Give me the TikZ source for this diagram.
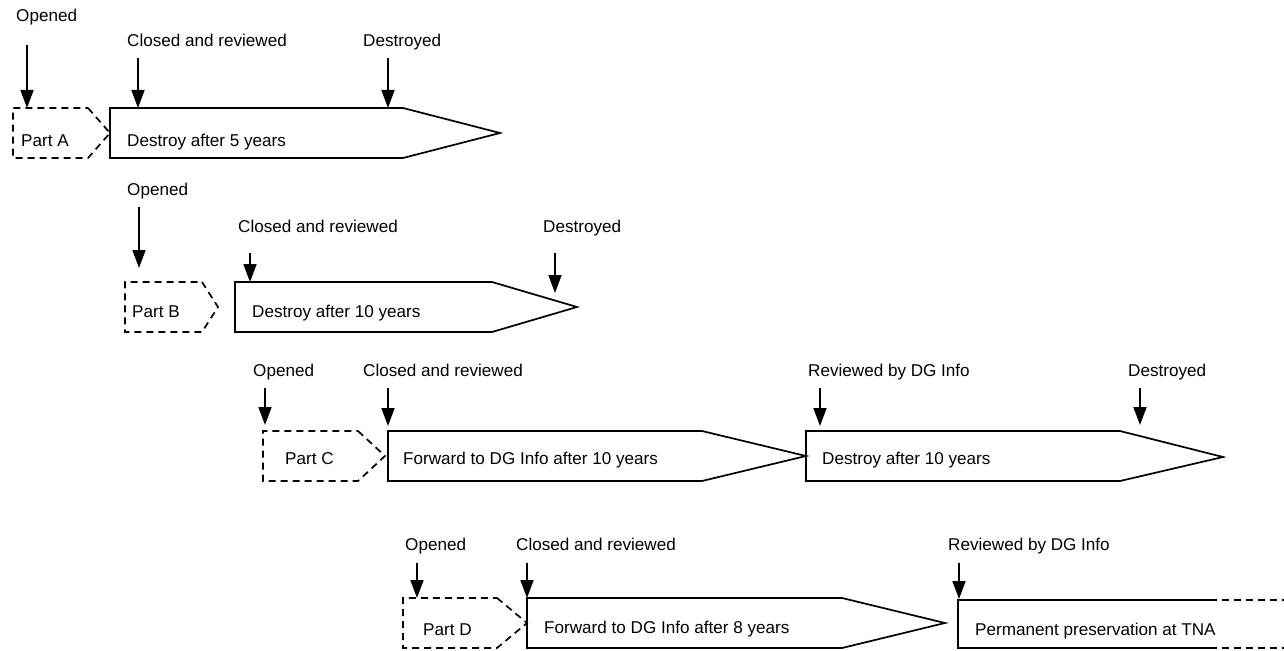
\documentclass[tikz,border=0pt]{standalone}
\usepackage{fontspec}
\setmainfont{Liberation Sans}
\usetikzlibrary{arrows.meta}
\begin{document}
\begin{tikzpicture}[x=1bp,y=-1bp,
  lbl/.style={anchor=base west, inner sep=0pt, font=\fontsize{17.1bp}{20bp}\selectfont},
  tick/.style={-{Triangle[width=13bp,length=18bp]}, line width=1.7bp},
  stage/.style={draw, line width=1.7bp, line join=miter},
  partline/.style={draw, line width=1.7bp, dash pattern=on 7bp off 5bp},
  openline/.style={line width=1.7bp, dash pattern=on 7bp off 5bp}]
\useasboundingbox (0,0) rectangle (1284,651);

% ---------- Row A ----------
\draw[partline] (88,108) -- (110,133) -- (88,158) -- (13,158) -- (13,108) -- cycle;
\draw[stage] (110,108) -- (403,108) -- (500,133) -- (403,158) -- (110,158) -- cycle;
\node[lbl] (pA) at (21,147) {Part A};
\node[lbl] (sA) at (127,147) {Destroy after 5 years};
\node[lbl] (oA) at (16,22) {Opened};
\node[lbl] (cA) at (127,47) {Closed and reviewed};
\node[lbl] (dA) at (363,47) {Destroyed};
\coordinate (oA1) at (27,45);  \coordinate (oA2) at (27,108);
\coordinate (cA1) at (138,58); \coordinate (cA2) at (138,108);
\coordinate (dA1) at (388,58); \coordinate (dA2) at (388,108);
\draw[tick] (oA1) -- (oA2);
\draw[tick] (cA1) -- (cA2);
\draw[tick] (dA1) -- (dA2);

% ---------- Row B ----------
\draw[partline] (202,282) -- (218,307) -- (202,332) -- (125,332) -- (125,282) -- cycle;
\draw[stage] (235,282) -- (492,282) -- (577,307) -- (492,332) -- (235,332) -- cycle;
\node[lbl] (pB) at (132,317) {Part B};
\node[lbl] (sB) at (252,317) {Destroy after 10 years};
\node[lbl] (oB) at (127,196) {Opened};
\node[lbl] (cB) at (238,233) {Closed and reviewed};
\node[lbl] (dB) at (543,233) {Destroyed};
\coordinate (oB1) at (139,207); \coordinate (oB2) at (139,268);
\coordinate (cB1) at (250,253); \coordinate (cB2) at (250,282);
\coordinate (dB1) at (555,253); \coordinate (dB2) at (555,293);
\draw[tick] (oB1) -- (oB2);
\draw[tick] (cB1) -- (cB2);
\draw[tick] (dB1) -- (dB2);

% ---------- Row C ----------
\draw[partline] (358,431) -- (385,456) -- (358,481) -- (263,481) -- (263,431) -- cycle;
\draw[stage] (388,431) -- (702,431) -- (806,456) -- (702,481) -- (388,481) -- cycle;
\draw[stage] (806,431) -- (1120,431) -- (1223,457) -- (1120,481) -- (806,481) -- cycle;
\node[lbl] (pC) at (285,464) {Part C};
\node[lbl] (sC1) at (403,464) {Forward to DG Info after 10 years};
\node[lbl] (sC2) at (822,464) {Destroy after 10 years};
\node[lbl] (oC) at (253,376) {Opened};
\node[lbl] (cC) at (363,376) {Closed and reviewed};
\node[lbl] (rC) at (808,376) {Reviewed by DG Info};
\node[lbl] (dC) at (1128,376) {Destroyed};
\coordinate (oC1) at (265,388);  \coordinate (oC2) at (265,425);
\coordinate (cC1) at (388,388);  \coordinate (cC2) at (388,426);
\coordinate (rC1) at (820,388);  \coordinate (rC2) at (820,426);
\coordinate (dC1) at (1140,388); \coordinate (dC2) at (1140,425);
\draw[tick] (oC1) -- (oC2);
\draw[tick] (cC1) -- (cC2);
\draw[tick] (rC1) -- (rC2);
\draw[tick] (dC1) -- (dC2);

% ---------- Row D ----------
\draw[partline] (497,598) -- (527,623) -- (497,648) -- (403,648) -- (403,598) -- cycle;
\draw[stage] (527,598) -- (842,598) -- (945,623) -- (842,648) -- (527,648) -- cycle;
\draw[line width=1.7bp] (1210,600) -- (958,600) -- (958,648) -- (1210,648);
\draw[openline] (1210,600) -- (1284,600);
\draw[openline] (1210,648) -- (1284,648);
\node[lbl] (pD) at (423,635) {Part D};
\node[lbl] (sD1) at (544,633) {Forward to DG Info after 8 years};
\node[lbl] (sD2) at (975,635) {Permanent preservation at TNA};
\node[lbl] (oD) at (405,550) {Opened};
\node[lbl] (cD) at (516,550) {Closed and reviewed};
\node[lbl] (rD) at (948,550) {Reviewed by DG Info};
\coordinate (oD1) at (417,563); \coordinate (oD2) at (417,598);
\coordinate (cD1) at (527,563); \coordinate (cD2) at (527,598);
\coordinate (rD1) at (959,563); \coordinate (rD2) at (959,599);
\draw[tick] (oD1) -- (oD2);
\draw[tick] (cD1) -- (cD2);
\draw[tick] (rD1) -- (rD2);
\end{tikzpicture}
\end{document}
